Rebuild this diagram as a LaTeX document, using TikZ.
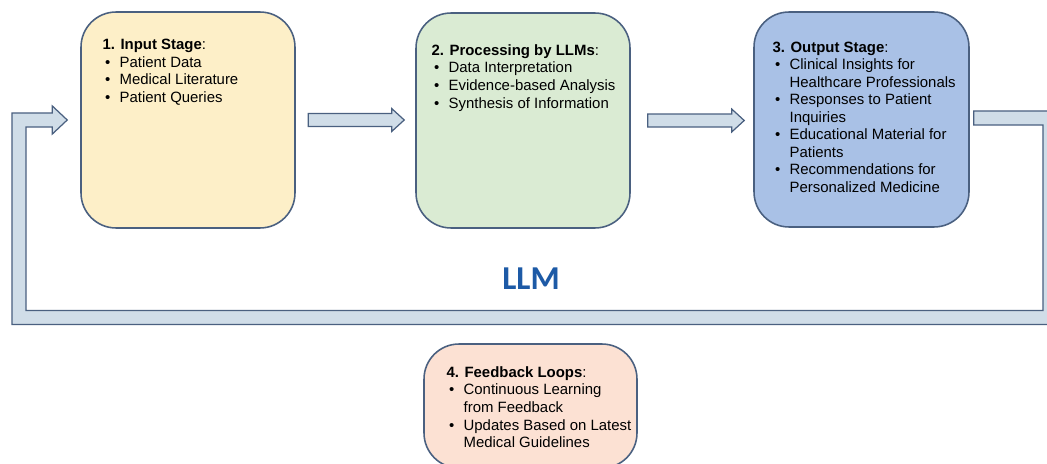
\documentclass[tikz,border=0pt]{standalone}
\usepackage{fontspec}
\setmainfont{Liberation Sans}
\newfontfamily\llmfont{Carlito}
\usetikzlibrary{calc}
\definecolor{jaune}{HTML}{FDEFC8}
\definecolor{vert}{HTML}{DAEBD3}
\definecolor{bleu}{HTML}{A9C1E6}
\definecolor{rose}{HTML}{FCE1D3}
\definecolor{flechec}{HTML}{D0DDE8}
\definecolor{bord}{HTML}{4A6080}
\definecolor{llmc}{HTML}{1D5AA6}
\newcommand\puce{\makebox[9.7pt][l]{\hspace{1.4pt}\textbullet}}
\newcommand\suite{\hspace*{9.7pt}}
\begin{document}
\begin{tikzpicture}[x=0.02cm, y=-0.02cm]
\tikzset{etape/.style={draw=bord, line width=0.9pt, rounded corners=0.7cm, inner sep=0pt, minimum width=4.28cm, minimum height=4.32cm},
  texte/.style={anchor=north west, inner sep=0pt, align=left, font=\fontsize{8.5}{10}\selectfont},
  fleche/.style={draw=bord, fill=flechec, line width=0.7pt, to path={let \p1=(\tikztostart), \p2=(\tikztotarget) in
    (\x1,{\y1+3.7pt}) -- ({\x2-7.1pt},{\y1+3.7pt}) -- ({\x2-7.1pt},{\y1+6.5pt}) -- (\x2,\y1)
    -- ({\x2-7.1pt},{\y1-6.5pt}) -- ({\x2-7.1pt},{\y1-3.7pt}) -- (\x1,{\y1-3.7pt}) -- cycle}},
  boucle/.style={draw=bord, fill=flechec, line width=0.7pt}}
\useasboundingbox (0,0) rectangle (1047,463);
\clip (0,0) rectangle (1047,463);
\node[etape, fill=jaune] (E1) at (188,120) {};
\node[etape, fill=vert, minimum height=4.30cm] (E2) at (523,120.5) {};
\node[etape, fill=bleu, minimum width=4.30cm, minimum height=4.30cm] (E3) at (861.5,119.5) {};
\node[etape, fill=rose, minimum width=4.26cm, minimum height=2.48cm] (E4) at (530.5,406) {};
\node[texte] (T1) at ([shift={(22,27.5)}]E1.north west) {\textbf{1. Input Stage}:\\
  \puce Patient Data\\ \puce Medical Literature\\ \puce Patient Queries};
\node[texte] (T2) at ([shift={(16,32)}]E2.north west) {\textbf{2. Processing by LLMs}:\\
  \puce Data Interpretation\\ \puce Evidence-based Analysis\\ \puce Synthesis of Information};
\node[texte] (T3) at ([shift={(19,30)}]E3.north west) {\textbf{3. Output Stage}:\\
  \puce Clinical Insights for\\ \suite Healthcare Professionals\\ \puce Responses to Patient\\ \suite Inquiries\\
  \puce Educational Material for\\ \suite Patients\\ \puce Recommendations for\\ \suite Personalized Medicine};
\node[texte] (T4) at ([shift={(23,23)}]E4.north west) {\textbf{4. Feedback Loops}:\\
  \puce Continuous Learning\\ \suite from Feedback\\ \puce Updates Based on Latest\\ \suite Medical Guidelines};
\node[text=llmc, font=\llmfont\bfseries\fontsize{19}{22}\selectfont] (L) at (531,278.5) {LLM};
\coordinate (A1) at ([shift={(12.5,0)}]E1.east);
\coordinate (B1) at ([shift={(-11,0)}]E2.west);
\coordinate (A2) at ([shift={(17,0)}]E2.east);
\coordinate (B2) at ([shift={(-9,0)}]E3.west);
\coordinate (A3) at ([shift={(4,-1.5)}]E3.east);
\coordinate (B3) at ([shift={(-13,0)}]E1.west);
\coordinate (C1) at (1050,317.5);
\coordinate (C2) at (19,317.5);
\draw[fleche] (A1) to (B1);
\draw[fleche] (A2) to (B2);
\draw[boucle] let \p1=(A3), \p2=(B3), \p3=(C1), \p4=(C2) in
  (\x1,{\y1+4pt}) -- ({\x3+4pt},{\y1+4pt}) -- ({\x3+4pt},{\y3-4pt}) -- ({\x4-4pt},{\y3-4pt})
  -- ({\x4-4pt},{\y2+4pt}) -- ({\x2-8.5pt},{\y2+4pt}) -- ({\x2-8.5pt},{\y2+8pt}) -- (\x2,\y2)
  -- ({\x2-8.5pt},{\y2-8pt}) -- ({\x2-8.5pt},{\y2-4pt}) -- ({\x4+4pt},{\y2-4pt}) -- ({\x4+4pt},{\y3+4pt})
  -- ({\x3-4pt},{\y3+4pt}) -- ({\x3-4pt},{\y1-4pt}) -- (\x1,{\y1-4pt}) -- cycle;
\end{tikzpicture}
\end{document}
